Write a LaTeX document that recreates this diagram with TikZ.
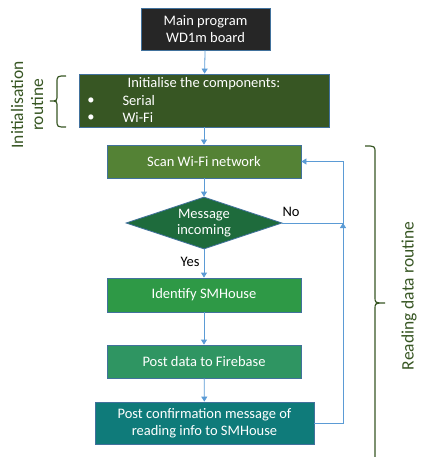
\documentclass[tikz,border=0pt]{standalone}
\usepackage{fontspec}
\setmainfont{Carlito}
\usepackage{tikz}
\usetikzlibrary{shapes.geometric}
\usetikzlibrary{arrows.meta}
\usepackage{xcolor}

\definecolor{edgeblue}{HTML}{41719C}
\definecolor{arrowblue}{HTML}{5B9BD5}
\definecolor{bracegreen}{HTML}{375623}
\definecolor{mainfill}{HTML}{262626}
\definecolor{initfill}{HTML}{375623}
\definecolor{scanfill}{HTML}{548235}
\definecolor{msgfill}{HTML}{1E6B3C}
\definecolor{identfill}{HTML}{2E9946}
\definecolor{postfill}{HTML}{2F9562}
\definecolor{conffill}{HTML}{0F7B7A}

\tikzset{
  boxfont/.style={font=\fontsize{14.5}{17}\selectfont},
  procbox/.style={draw=edgeblue, line width=.8pt, text=white, align=center, boxfont,
    inner sep=0pt, minimum width=194pt, minimum height=33pt},
  flowarrow/.style={draw=arrowblue, line width=.8pt, -{Triangle[width=6pt,length=5pt]}},
  routinebrace/.style={draw=bracegreen, line width=1.2pt},
  routinelabel/.style={text=bracegreen, rotate=90, align=center, font=\fontsize{17.5}{20}\selectfont}
}

\begin{document}
\begin{tikzpicture}[x=1pt,y=-1pt]
\useasboundingbox (0,0) rectangle (420,457);

\node[procbox, fill=mainfill, minimum width=129pt, minimum height=42pt] (main) at (205.5,29) {Main program\\WD1m board};
\node[procbox, fill=initfill, minimum width=250pt, minimum height=53pt] (init) at (204,100.5) {};
\node[text=white, boxfont] (inittitle) at (204,84) {Initialise the components:};
\node[text=white, boxfont] (bulletone) at (91,101) {\textbullet};
\node[text=white, boxfont] (bullettwo) at (91,118) {\textbullet};
\node[text=white, anchor=west, boxfont] (serial) at (119,101) {Serial};
\node[text=white, anchor=west, boxfont] (wifi) at (119,118) {Wi-Fi};

\node[procbox, fill=scanfill] (scan) at (204,161.5) {Scan Wi-Fi network};
\node[procbox, diamond, aspect=3, fill=msgfill, minimum width=156pt, minimum height=52pt,
  font=\fontsize{14.5}{16}\selectfont] (msg) at (204,223) {Message\\incoming};
\node[procbox, fill=identfill, minimum height=34pt] (ident) at (204,295) {Identify SMHouse};
\node[procbox, fill=postfill] (post) at (204,361.5) {Post data to Firebase};
\node[procbox, fill=conffill, minimum width=219pt, minimum height=42pt] (conf) at (204.5,423) {Post confirmation message of\\reading info to SMHouse};

% flow
\draw[flowarrow] (main) -- (init);
\draw[flowarrow] (init) -- (scan);
\draw[flowarrow] (scan) -- (msg);
\draw[flowarrow] (msg) -- (ident);
\draw[flowarrow] (ident) -- (post);
\draw[flowarrow] (post) -- (conf);

% loop back
\coordinate (loop) at (343,223);
\draw[flowarrow] (msg.east) -- (loop) |- (scan.east);
\draw[flowarrow] (conf.east) -| (loop);
\node[boxfont] (no) at (291,212) {No};
\node[boxfont] (yes) at (190,262) {Yes};

% routines
\draw[routinebrace] (66,76) .. controls (57,76) .. (57,83) -- (57,95)
  .. controls (57,101) .. (50,101) .. controls (57,101) .. (57,107) -- (57,120)
  .. controls (57,127) .. (66,127);
\node[routinelabel] (initlabel) at (27,105) {Initialisation\\routine};
\draw[routinebrace] (365,146) .. controls (375,146) .. (375,153) -- (375,297)
  .. controls (375,303) .. (385,303) .. controls (375,303) .. (375,309) -- (375,462);
\node[routinelabel] (readlabel) at (409,296) {Reading data routine};
\end{tikzpicture}
\end{document}
